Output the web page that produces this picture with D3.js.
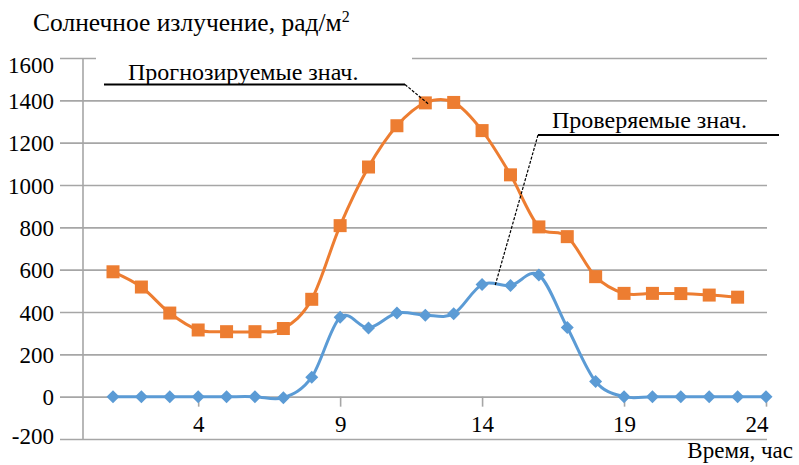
<!DOCTYPE html>
<html>
<head>
<meta charset="utf-8">
<script src="https://cdn.jsdelivr.net/npm/d3@7"></script>
<style>
  html, body { margin: 0; padding: 0; background: #ffffff; }
  svg { display: block; }
  .serif { font-family: "Liberation Serif"; fill: #000; }
</style>
</head>
<body>
<svg id="chart" width="799" height="465"></svg>
<script>
// ---- data ----
const forecastHours = [1,2,3,4,5,6,7,8,9,10,11,12,13,14,15,16,17,18,19,20,21,22,23];
const forecastValues = [590,518,395,315,307,307,322,460,808,1085,1280,1388,1390,1257,1048,802,756,567,488,488,487,480,470];
const measuredHours = [1,2,3,4,5,6,7,8,9,10,11,12,13,14,15,16,17,18,19,20,21,22,23,24];
const measuredValues = [0,0,0,0,0,0,-5,92,375,325,395,385,392,530,525,575,327,72,0,0,0,0,0,0];
const yTicks = [-200,0,200,400,600,800,1000,1200,1400,1600];
const xTicks = [4,9,14,19,24];
const yTitle = "Солнечное излучение, рад/м";
const yTitleSup = "2";
const xTitle = "Время, час";
const forecastLabel = "Прогнозируемые знач.";
const measuredLabel = "Проверяемые знач.";

// ---- layout ----
const svg = d3.select("#chart");
const x = d3.scaleLinear().domain([1, 24]).range([113, 766]);
const y = d3.scaleLinear().domain([-200, 1600]).range([439, 58]);
const gridLeft = 60, gridRight = 767, axisX = 83;
const gridColor = "#a6a6a6";
const orange = "#ED7D31", blue = "#5B9BD5";

// y grid + labels via axis
const yAxis = d3.axisLeft(y).tickValues(yTicks).tickSizeInner(-(gridRight - gridLeft)).tickSizeOuter(0).tickPadding(6).tickFormat(d => String(d));
const gy = svg.append("g").attr("transform", `translate(${gridLeft},0)`).call(yAxis);
gy.select(".domain").remove();
gy.selectAll(".tick line").attr("stroke", gridColor).attr("stroke-width", 1.6);
gy.selectAll(".tick text").attr("class", "serif").style("font-family", "Liberation Serif").style("font-size", "23px").attr("x", -6).attr("dy", "0.36em");
gy.selectAll(".tick").filter(d => d === 1600).select("text").attr("dy", "0.62em");
gy.selectAll(".tick").filter(d => d === -200).select("text").attr("dy", "0.2em");

// vertical axis line
svg.append("line").attr("x1", axisX).attr("x2", axisX).attr("y1", y(1600)).attr("y2", y(-200))
  .attr("stroke", gridColor).attr("stroke-width", 1.6);

// x ticks at zero line
const xAxis = d3.axisBottom(x).tickValues(xTicks).tickSizeInner(10).tickSizeOuter(0).tickPadding(9).tickFormat(d => String(d));
const gx = svg.append("g").attr("transform", `translate(0,${y(0)})`).call(xAxis);
gx.select(".domain").remove();
gx.selectAll(".tick line").attr("stroke", gridColor).attr("stroke-width", 1.6);
gx.selectAll(".tick text").attr("class", "serif").style("font-family", "Liberation Serif").style("font-size", "23px");
gx.selectAll(".tick").filter(d => d === 24).select("text").attr("text-anchor", "end").attr("x", 2);

// series
const curve = d3.curveCardinal.tension(0);
const fData = forecastHours.map((h, i) => [h, forecastValues[i]]);
const mData = measuredHours.map((h, i) => [h, measuredValues[i]]);
const line = d3.line().x(d => x(d[0])).y(d => y(d[1])).curve(curve);

svg.append("path").datum(mData).attr("d", line).attr("fill", "none").attr("stroke", blue).attr("stroke-width", 3).attr("stroke-linejoin", "round");
svg.append("path").datum(fData).attr("d", line).attr("fill", "none").attr("stroke", orange).attr("stroke-width", 3).attr("stroke-linejoin", "round");

// blue diamonds
const dh = 6.5;
svg.append("g").selectAll("path").data(mData).join("path")
  .attr("d", d => { const cx = x(d[0]), cy = y(d[1]); return `M${cx},${cy-dh}L${cx+dh},${cy}L${cx},${cy+dh}L${cx-dh},${cy}Z`; })
  .attr("fill", blue);

// orange squares
const sq = 13;
svg.append("g").selectAll("rect").data(fData).join("rect")
  .attr("x", d => x(d[0]) - sq/2).attr("y", d => y(d[1]) - sq/2)
  .attr("width", sq).attr("height", sq).attr("fill", orange);

// annotations (label box hides the top gridline behind it)
svg.append("rect").attr("x", 96).attr("y", 52).attr("width", 316).attr("height", 30).attr("fill", "#fff");
svg.append("text").attr("class", "serif").style("font-family", "Liberation Serif").style("font-size", "24px")
  .attr("x", 128).attr("y", 80).text(forecastLabel);
svg.append("line").attr("x1", 104).attr("y1", 84.5).attr("x2", 405).attr("y2", 84.5).attr("stroke", "#000").attr("stroke-width", 2);
svg.append("line").attr("x1", 405).attr("y1", 84.5).attr("x2", x(12) + 3).attr("y2", y(forecastValues[11]) + 1).attr("stroke", "#000").attr("stroke-width", 1.2).attr("stroke-dasharray", "3,1.5");

svg.append("text").attr("class", "serif").style("font-family", "Liberation Serif").style("font-size", "24px")
  .attr("x", 552).attr("y", 128).text(measuredLabel);
svg.append("line").attr("x1", 538).attr("y1", 135).attr("x2", 779).attr("y2", 135).attr("stroke", "#000").attr("stroke-width", 2);
svg.append("line").attr("x1", 538).attr("y1", 135).attr("x2", 495).attr("y2", 286).attr("stroke", "#000").attr("stroke-width", 1.2).attr("stroke-dasharray", "3,1.5");

// titles
const t = svg.append("text").attr("class", "serif").style("font-family", "Liberation Serif").style("font-size", "25.5px")
  .attr("x", 33).attr("y", 31).text(yTitle);
t.append("tspan").style("font-size", "16px").attr("dy", -9).text(yTitleSup);
svg.append("text").attr("class", "serif").style("font-family", "Liberation Serif").style("font-size", "23px")
  .attr("x", 793).attr("y", 458).attr("text-anchor", "end").text(xTitle);
</script>
</body>
</html>
